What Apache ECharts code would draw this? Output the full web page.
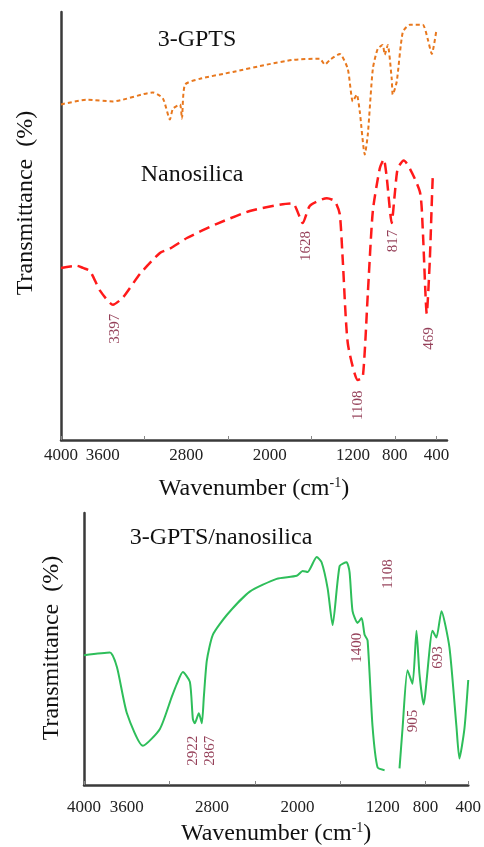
<!DOCTYPE html>
<html>
<head>
<meta charset="utf-8">
<script src="https://cdn.jsdelivr.net/npm/echarts@6/dist/echarts.min.js"></script>
<style>
html,body{margin:0;padding:0;background:#fff}
#main{width:484px;height:847px}
</style>
</head>
<body>
<div id="main"></div>
<script>
// FTIR spectra, wavenumber (cm-1) vs transmittance (arb. %)
var tickLabels=[4000,3600,2800,2000,1200,800,400]
var tickMarks=[4000,3200,2400,1600,800,400]

// 3-GPTS (top, orange dashed)
var gptsWn=[4000,3751,3502,3119,3023,2956,2927,2860,2841,2812,2669,2352,2027,1778,1519,1471,1423,1328,1251,1203,1165,1136,1088,1059,1011,964,916,897,868,830,820,782,724,657,533,485,446,400]
var gptsT=[78.4,79.5,79.1,81.2,79.8,74.9,77.4,78.4,75.1,83.0,84.4,86.0,87.7,88.8,89.1,87.7,88.8,90.2,86.7,79.1,80.7,76.7,66.7,71.4,86.7,91.4,92.3,90.0,92.3,84.4,80.7,83.7,95.3,97.0,97.0,93.7,90.2,96.0]

// Nanosilica (top, red dashed)
var nanoWn=[4000,3847,3789,3722,3626,3502,3406,3243,3052,2956,2793,2506,2190,1874,1778,1682,1615,1452,1375,1328,1299,1251,1155,1107,1059,1011,944,906,877,830,801,772,715,561,533,494,465,437,427]
var nanoT=[40.2,40.7,40.2,39.5,34.9,31.6,33.3,38.8,43.7,44.7,47.2,50.5,53.5,55.1,55.3,50.7,54.7,56.5,55.8,52.8,41.9,22.6,14.0,14.7,34.2,53.5,63.5,65.6,61.2,50.7,57.4,63.5,65.3,58.1,49.5,29.5,41.9,61.2,61.6]

// 3-GPTS/nanosilica (bottom, green)
var hybWn=[4000,3757,3691,3598,3448,3289,3177,3130,3074,3008,2980,2962,2924,2896,2877,2849,2793,2662,2447,2195,2007,1951,1905,1820,1774,1717,1671,1605,1540,1512,1484,1437,1399,1371,1343,1297,1250,1184,1110,1044,1016,969,922,885,857,819,735,698,651,576,511,483,436,400]
var hybT=[47.7,48.7,43.3,26.4,14.4,20.6,32.5,37.2,41.5,37.9,24.2,22.7,26.4,22.7,32.5,45.8,55.2,62.5,71.1,75.8,76.9,78.7,78.3,83.8,81.9,72.2,58.8,80.5,81.9,78.3,63.9,59.6,61.4,55.2,53.1,21.7,6.5,5.4,null,6.1,20.6,42.2,37.2,56.7,40.8,29.6,56.7,54.2,63.9,50.5,21.7,9.7,20.6,38.6]

// peak annotations
var topPeakNames=['3397','1628','1108','817','469']
var topPeakWn=[3482,1651,1152,817,472]
var topPeakT=[26.0,45.3,8.1,46.5,23.7]
var botPeakNames=['1108','1400','693','905','2922','2867']
var botPeakWn=[1147,1446,679,913,2980,2821]
var botPeakT=[77.6,50.5,46.9,23.5,12.6,12.6]

function pairs(xs,ys){
  var out=[]
  for(var i=0;i<xs.length;i++){
    out.push([xs[i],ys[i]])
  }
  return out
}
function peakData(names,xs,ys){
  var out=[]
  for(var i=0;i<names.length;i++){
    out.push({name:names[i],value:[xs[i],ys[i]]})
  }
  return out
}

var font='"Liberation Serif","Times New Roman",serif'
var axisName={
  fontFamily:font,
  color:'#111',
  rich:{
    a:{fontFamily:font,fontSize:24,color:'#111'},
    s:{fontFamily:font,fontSize:14,color:'#111',verticalAlign:'top',padding:[0,0,12,0]}
  }
}

function makeX(idx,min,margin,gap){
  return {
    gridIndex:idx,
    type:'value',
    inverse:true,
    min:min,
    max:4000,
    splitLine:{show:false},
    axisLine:{lineStyle:{color:'#3a3a3a',width:2.5}},
    axisTick:{show:true,inside:true,length:4,customValues:tickMarks,lineStyle:{color:'#888'}},
    axisLabel:{customValues:tickLabels,formatter:function(v){return String(v)},fontFamily:font,fontSize:17,color:'#222',margin:margin},
    name:'{a|Wavenumber (cm}{s|-1}{a|)}',
    nameLocation:'middle',
    nameGap:gap,
    nameTextStyle:axisName
  }
}
function makeY(idx){
  return {
    gridIndex:idx,
    type:'value',
    min:0,
    max:100,
    splitLine:{show:false},
    axisLine:{show:true,lineStyle:{color:'#3a3a3a',width:2.5}},
    axisTick:{show:false},
    axisLabel:{show:false}
  }
}
function peakSeries(idx,data){
  return {
    type:'scatter',
    xAxisIndex:idx,
    yAxisIndex:idx,
    symbolSize:0,
    silent:true,
    data:data,
    label:{
      show:true,
      formatter:'{b}',
      rotate:90,
      position:'inside',
      fontFamily:font,
      fontSize:15,
      color:'#7a1030'
    }
  }
}
function title(txt,x,y,rot){
  return {
    type:'text',x:x,y:y,rotation:rot||0,
    style:{text:txt,fontFamily:font,fontSize:24,fill:'#111',align:'center',verticalAlign:'middle'}
  }
}

var chart=echarts.init(document.getElementById('main'),null,{renderer:'canvas'})
var option={
  backgroundColor:'#fff',
  animation:false,
  grid:[
    {left:61,top:12,width:386,height:428},
    {left:84,top:513,width:385,height:277}
  ],
  xAxis:[makeX(0,300,7,36),makeX(1,400,14,36)],
  yAxis:[makeY(0),makeY(1)],
  graphic:[
    title('3-GPTS',197,40),
    title('Nanosilica',192,175),
    title('3-GPTS/nanosilica',221,538),
    title('Transmittance  (%)',26,203,Math.PI/2),
    title('Transmittance  (%)',52,648,Math.PI/2)
  ],
  series:[
    {
      name:'3-GPTS',
      type:'line',
      xAxisIndex:0,yAxisIndex:0,
      showSymbol:false,
      smooth:0.2,
      data:pairs(gptsWn,gptsT),
      lineStyle:{color:'#e8781e',width:2,type:[4,3]}
    },
    {
      name:'Nanosilica',
      type:'line',
      xAxisIndex:0,yAxisIndex:0,
      showSymbol:false,
      smooth:0.2,
      data:pairs(nanoWn,nanoT),
      lineStyle:{color:'#ff1a1a',width:2.5,type:[11,6]}
    },
    {
      name:'3-GPTS/nanosilica',
      type:'line',
      xAxisIndex:1,yAxisIndex:1,
      showSymbol:false,
      smooth:0.2,
      connectNulls:false,
      data:pairs(hybWn,hybT),
      lineStyle:{color:'#2ebe5a',width:2}
    },
    peakSeries(0,peakData(topPeakNames,topPeakWn,topPeakT)),
    peakSeries(1,peakData(botPeakNames,botPeakWn,botPeakT))
  ]
}
chart.setOption(option)
</script>
</body>
</html>
